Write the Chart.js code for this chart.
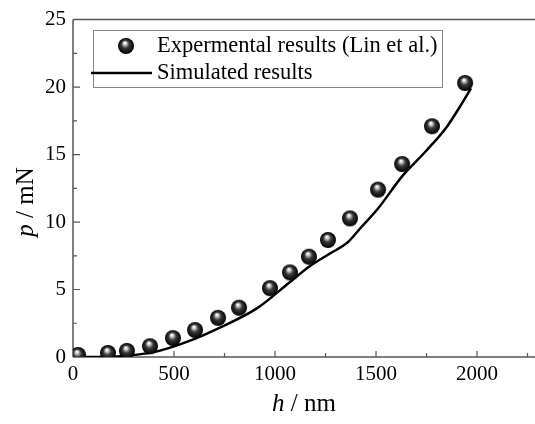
<!DOCTYPE html>
<html>
<head>
<meta charset="utf-8">
<script src="https://cdn.jsdelivr.net/npm/chart.js@4"></script>
<style>
  html, body { margin: 0; padding: 0; background: #fff; overflow: hidden; }
  canvas { display: block; }
</style>
</head>
<body>
<canvas id="chart" width="535" height="424"></canvas>
<script>
// experimental points (Lin et al.)
const expH = [25, 173, 267, 381, 495, 604, 718, 822, 975, 1074, 1168, 1262, 1371, 1510, 1629, 1777, 1941];
const expP = [0.15, 0.3, 0.45, 0.8, 1.4, 2.0, 2.9, 3.65, 5.1, 6.27, 7.43, 8.67, 10.27, 12.4, 14.3, 17.1, 20.3];

// simulated curve
const simH = [0, 150, 250, 400, 560, 730, 910, 1070, 1170, 1270, 1360, 1420, 1510, 1630, 1750, 1850, 1930, 1970];
const simP = [0, 0, 0.08, 0.36, 1.1, 2.2, 3.6, 5.5, 6.7, 7.65, 8.5, 9.5, 11.0, 13.4, 15.3, 17.05, 18.9, 19.9];

const xTicks = [0, 500, 1000, 1500, 2000];
const yTicks = [0, 5, 10, 15, 20, 25];

const FONT = "'Liberation Serif', 'Times New Roman', serif";
const AXIS = "#555";

// shaded ball marker
function makeBall(r) {
  const c = document.createElement("canvas");
  c.width = c.height = r * 2 + 2;
  const g = c.getContext("2d");
  const cx = r + 1, cy = r + 1;
  const grad = g.createRadialGradient(cx - r * 0.15, cy - r * 0.4, 0.5, cx, cy, r);
  grad.addColorStop(0, "#ffffff");
  grad.addColorStop(0.18, "#bdbdbd");
  grad.addColorStop(0.45, "#3a3a3a");
  grad.addColorStop(1, "#000000");
  g.fillStyle = grad;
  g.beginPath();
  g.arc(cx, cy, r, 0, Math.PI * 2);
  g.fill();
  return c;
}
const ball = makeBall(8);

const expData = expH.map((h, i) => ({ x: h, y: expP[i] }));
const simData = simH.map((h, i) => ({ x: h, y: simP[i] }));

const framePlugin = {
  id: "frame",
  beforeDatasetsDraw(chart) {
    const { ctx, chartArea: a, scales: { x, y } } = chart;
    ctx.save();
    ctx.strokeStyle = AXIS;
    ctx.lineWidth = 1.5;
    ctx.beginPath();
    ctx.moveTo(a.left, a.top); ctx.lineTo(a.right, a.top);
    ctx.moveTo(a.left, a.top); ctx.lineTo(a.left, a.bottom);
    ctx.moveTo(a.left, a.bottom); ctx.lineTo(a.right, a.bottom);
    ctx.stroke();
    ctx.lineWidth = 1.2;
    ctx.beginPath();
    for (let v = 250; v <= x.max; v += 250) {
      const px = x.getPixelForValue(v);
      const len = v % 500 === 0 ? 6 : 4;
      ctx.moveTo(px, a.bottom); ctx.lineTo(px, a.bottom - len);
    }
    for (let v = 2.5; v < y.max; v += 2.5) {
      const py = y.getPixelForValue(v);
      const len = v % 5 === 0 ? 7 : 4;
      ctx.moveTo(a.left, py); ctx.lineTo(a.left + len, py);
    }
    ctx.stroke();
    ctx.restore();
  },
  afterDraw(chart) {
    const { ctx } = chart;
    ctx.save();
    ctx.fillStyle = "#000";
    ctx.textBaseline = "middle";
    // axis titles with italic symbol
    const drawTitle = (sym, rest, cx, cy, rot) => {
      ctx.save();
      ctx.translate(cx, cy);
      ctx.rotate(rot);
      ctx.font = "italic 25px " + FONT;
      const w1 = ctx.measureText(sym).width;
      ctx.font = "25px " + FONT;
      const w2 = ctx.measureText(rest).width;
      let sx = -(w1 + w2) / 2;
      ctx.textAlign = "left";
      ctx.font = "italic 25px " + FONT;
      ctx.fillText(sym, sx, 0);
      ctx.font = "25px " + FONT;
      ctx.fillText(rest, sx + w1, 0);
      ctx.restore();
    };
    drawTitle("h", " / nm", 304, 404, 0);
    drawTitle("p", " / mN", 26, 202, -Math.PI / 2);

    // legend
    const lx = 93, ly = 30, lw = 349, lh = 57;
    ctx.fillStyle = "#fff";
    ctx.fillRect(lx, ly, lw, lh);
    ctx.strokeStyle = "#888";
    ctx.lineWidth = 1;
    ctx.strokeRect(lx + 0.5, ly + 0.5, lw, lh);
    ctx.drawImage(ball, 126 - 9, 46 - 9);
    ctx.strokeStyle = "#000";
    ctx.lineWidth = 2.5;
    ctx.beginPath();
    ctx.moveTo(91, 73); ctx.lineTo(152, 73);
    ctx.stroke();
    ctx.fillStyle = "#000";
    ctx.font = "22.5px " + FONT;
    ctx.textAlign = "left";
    ctx.fillText("Expermental results (Lin et al.)", 157, 46);
    ctx.fillText("Simulated results", 157, 73);
    ctx.restore();
  }
};

new Chart(document.getElementById("chart"), {
  type: "scatter",
  data: {
    datasets: [
      {
        label: "Expermental results (Lin et al.)",
        data: expData,
        pointStyle: ball,
        pointRadius: 8,
        showLine: false,
        order: 0
      },
      {
        label: "Simulated results",
        data: simData,
        showLine: true,
        borderColor: "#000",
        borderWidth: 2.5,
        pointRadius: 0,
        cubicInterpolationMode: "monotone",
        order: 1
      }
    ]
  },
  options: {
    responsive: false,
    animation: false,
    layout: { autoPadding: false, padding: { top: 14, right: 0, left: 0, bottom: 0 } },
    plugins: {
      legend: { display: false },
      tooltip: { enabled: false }
    },
    scales: {
      x: {
        type: "linear",
        min: 0,
        max: 2287,
        afterFit: s => { s.height = 67; s.paddingRight = 0; },
        afterBuildTicks: s => { s.ticks = xTicks.map(v => ({ value: v })); },
        grid: { display: false, drawTicks: false },
        border: { display: false },
        ticks: { color: "#000", padding: 5, font: { family: FONT, size: 21 }, maxRotation: 0,
                 callback: v => String(v) }
      },
      y: {
        type: "linear",
        min: 0,
        max: 25,
        afterFit: s => { s.width = 73; },
        afterBuildTicks: s => { s.ticks = yTicks.map(v => ({ value: v })); },
        grid: { display: false, drawTicks: false },
        border: { display: false },
        ticks: { color: "#000", padding: 7, font: { family: FONT, size: 21 },
                 callback: v => String(v) }
      }
    }
  },
  plugins: [framePlugin]
});
</script>
</body>
</html>
